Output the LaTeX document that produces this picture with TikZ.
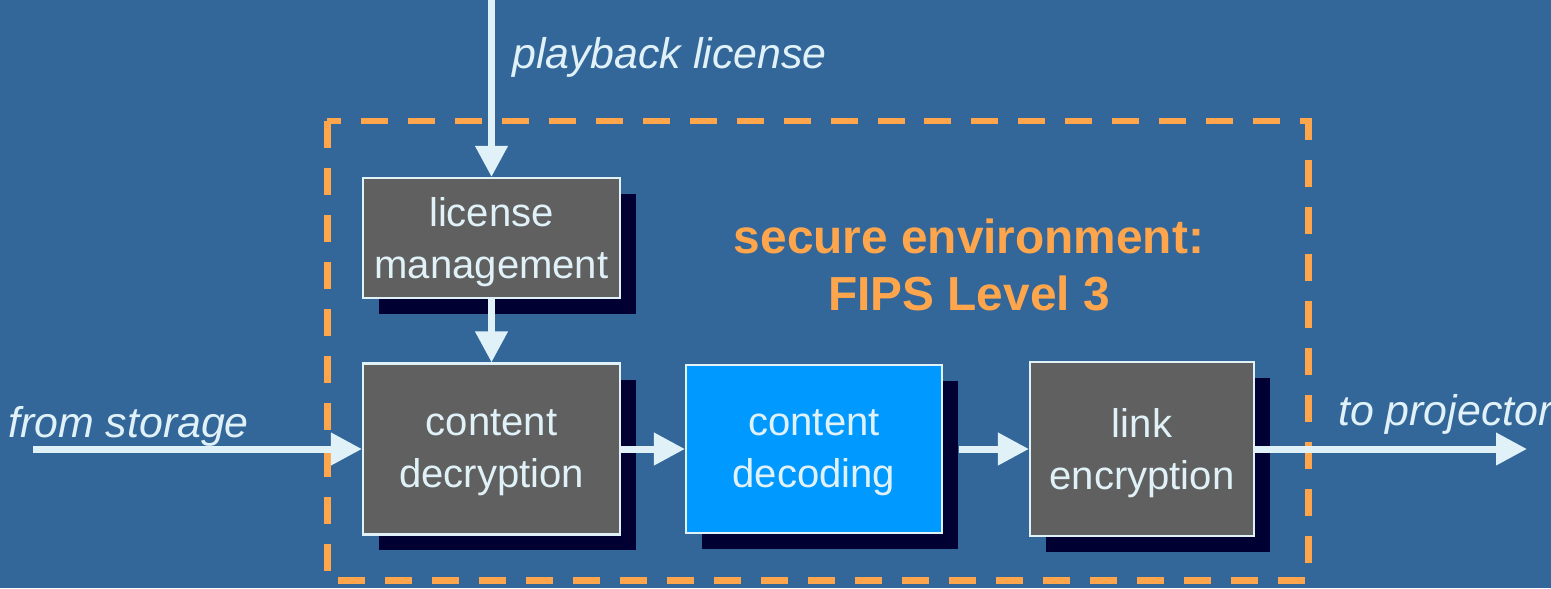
\documentclass[tikz,border=0pt]{standalone}
\usepackage{fontspec}
\setmainfont{Liberation Sans}
\usetikzlibrary{arrows.meta,shadows}
\definecolor{bgblue}{HTML}{336699}
\definecolor{boxgrey}{HTML}{606060}
\definecolor{boxblue}{HTML}{0099FF}
\definecolor{paleline}{HTML}{E0F2F8}
\definecolor{shadowcol}{HTML}{000033}
\definecolor{secorange}{HTML}{FFA64D}
\begin{document}
\begin{tikzpicture}[x=0.02cm,y=0.02cm,
		box/.style={draw=paleline,line width=1.2pt,fill=boxgrey,text=paleline,align=center,inner sep=0pt,
			font=\fontsize{22.8}{29.6}\selectfont,text depth=0pt,
			drop shadow={shadow xshift=0.32cm,shadow yshift=-0.32cm,fill=shadowcol,opacity=1}},
		flow/.style={-{Triangle[length=0.62cm,width=0.62cm]},line width=0.14cm,color=paleline},
		lbl/.style={anchor=west,text=paleline,font=\fontsize{24.4}{29}\selectfont\itshape}]
			% background and frame
			\fill[bgblue] (0,0) rectangle (1551,-588);
			\useasboundingbox (0,0) rectangle (1551,-588);
			\draw[secorange,line width=0.14cm,dash pattern=on 0.54cm off 0.4cm] (327,-121) rectangle (1308,-580);
			\node[text=secorange,align=center,font=\fontsize{27.2}{32.4}\selectfont\bfseries] (env) at (969,-265){secure environment:\\FIPS Level 3};
			% blocks
			\node[box,minimum width=5.14cm,minimum height=2.4cm] (lic) at (491.5,-238){license\\management};
			\node[box,minimum width=5.14cm,minimum height=3.42cm] (decr) at (491.5,-449){content\\decryption};
			\node[box,fill=boxblue,minimum width=5.12cm,minimum height=3.36cm] (decod) at (814,-449){content\\decoding};
			\node[box,minimum width=4.48cm,minimum height=3.48cm] (link) at (1142,-449){link\\encryption};
			% outside ends
			\coordinate (top) at (491.5,0);
			\coordinate (storage) at (33,-449);
			\coordinate (projector) at (1527,-449);
			% connectors
			\draw[flow] (top) -- (lic);
			\draw[flow] (lic) -- (decr);
			\draw[flow] (storage) -- (decr);
			\draw[flow] (decr) -- (decod);
			\draw[flow,shorten <=0.32cm] (decod) -- (link);
			\draw[flow] (link) -- (projector);
			% labels
			\node[lbl] (playlbl) at (506,-57){playback license};
			\node[lbl] (storelbl) at (2,-426){from storage};
			\node[lbl] (projlbl) at (1332,-414){to projector};
		\end{tikzpicture}
\end{document}
